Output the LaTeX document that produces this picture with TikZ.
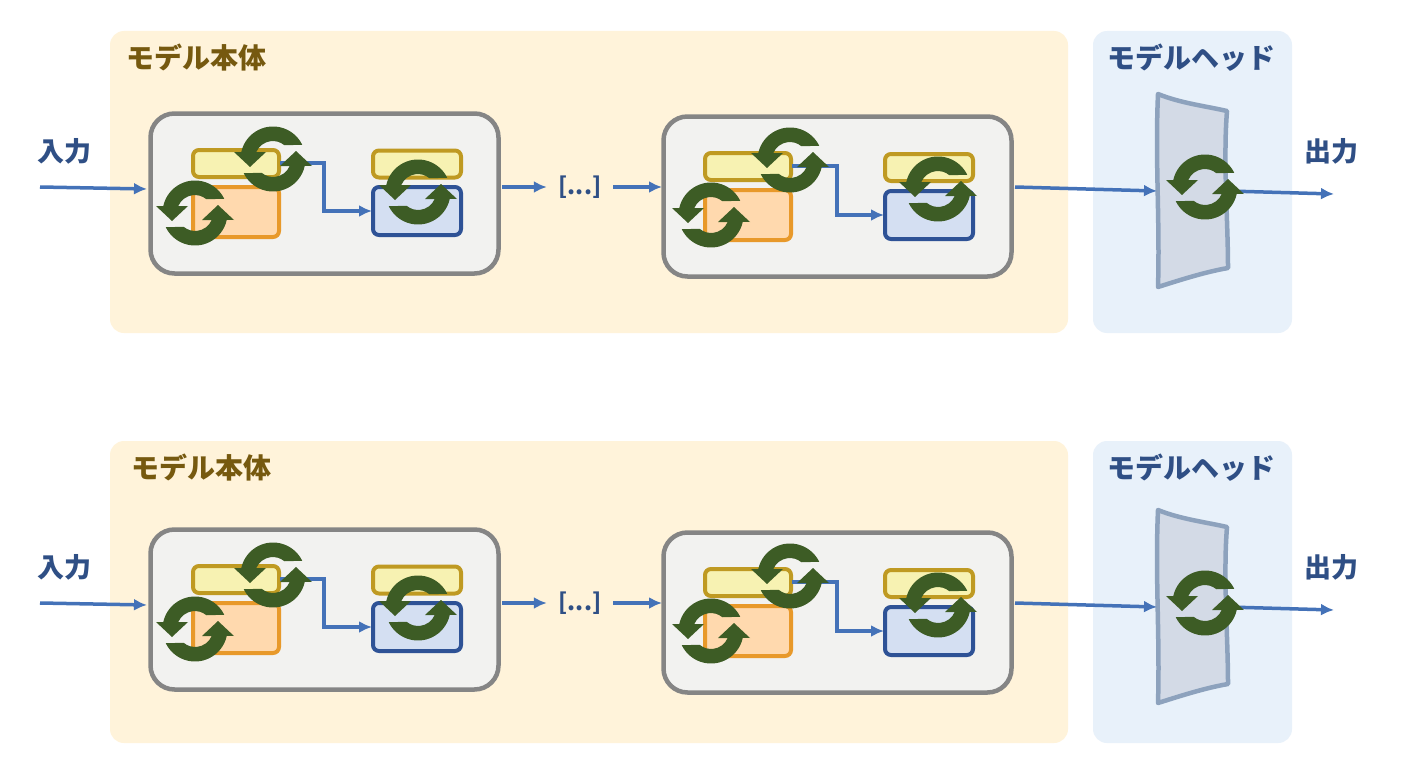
\documentclass[tikz,border=0pt]{standalone}
\usepackage{fontspec}
\setmainfont{Noto Sans CJK JP}
\usetikzlibrary{arrows.meta}
\definecolor{bodybg}{HTML}{FFF3DA}
\definecolor{headbg}{HTML}{E8F1FA}
\definecolor{bodytxt}{HTML}{76590F}
\definecolor{headtxt}{HTML}{2F4F85}
\definecolor{blockfill}{HTML}{F2F2F0}
\definecolor{blockline}{HTML}{858585}
\definecolor{yelfill}{HTML}{F7F2B2}
\definecolor{yelline}{HTML}{BF9A22}
\definecolor{orfill}{HTML}{FFD9AE}
\definecolor{orline}{HTML}{E8992A}
\definecolor{blfill}{HTML}{D4DFF2}
\definecolor{blline}{HTML}{2E5296}
\definecolor{iconc}{HTML}{3D5C25}
\definecolor{arrowc}{HTML}{4472B8}
\definecolor{headfill}{HTML}{D3DAE6}
\definecolor{headline}{HTML}{8DA2BD}
\tikzset{
  panel/.style={fill=#1,draw=none,rounded corners=14pt},
  blockbox/.style={draw=blockline,fill=blockfill,line width=4.5pt,rounded corners=24pt,minimum width=348pt,minimum height=160pt,inner sep=0pt},
  innerbox/.style n args={4}{draw=#2,fill=#1,line width=4pt,rounded corners=6pt,minimum width=#3,minimum height=#4,inner sep=0pt},
  conn/.style={draw=arrowc,line width=3.5pt,-{Latex[length=13pt,width=12pt]}},
  bodylabel/.style={text=bodytxt,font=\fontsize{28}{32}\selectfont\bfseries,inner sep=0pt},
  headlabel/.style={text=headtxt,font=\fontsize{28}{32}\selectfont\bfseries,inner sep=0pt},
  iolabel/.style={text=headtxt,font=\fontsize{27}{32}\selectfont\bfseries,inner sep=0pt},
  dots/.style={text=headtxt,font=\fontsize{23}{28}\selectfont\bfseries,inner sep=0pt,minimum width=66pt,minimum height=30pt},
  headanchor/.style={inner sep=0pt,minimum width=71pt,minimum height=160pt},
  pics/refreshicon/.style={code={
    \foreach \r in {0,180}{
      \fill[iconc,rotate=\r] (26:32.5) arc[start angle=26,end angle=168,radius=32.5]
        -- (-39,7) -- (-23,-8) -- (-7,7) -- (-16.7,7)
        arc[start angle=157,end angle=50,radius=18] -- cycle;
    }
  }}
}
\newcommand{\modelrow}[2]{%
  \begin{scope}[yshift=-#2pt]
    % first block
    \node[blockbox] (blockA#1) at (324.5,-193.5) {};
    \node[innerbox={yelfill}{yelline}{86pt}{27pt}] (yelA#1) at (236,-163.5) {};
    \node[innerbox={orfill}{orline}{86pt}{50pt}] (orA#1) at (236,-212) {};
    \node[innerbox={yelfill}{yelline}{88pt}{27pt}] (yelB#1) at (417,-164) {};
    \node[innerbox={blfill}{blline}{88pt}{48pt}] (blA#1) at (417,-211) {};
    % second block
    \node[blockbox] (blockB#1) at (837.5,-196.5) {};
    \node[innerbox={yelfill}{yelline}{86pt}{27pt}] (yelC#1) at (748,-166.5) {};
    \node[innerbox={orfill}{orline}{86pt}{50pt}] (orB#1) at (748,-215) {};
    \node[innerbox={yelfill}{yelline}{88pt}{27pt}] (yelD#1) at (929,-167.5) {};
    \node[innerbox={blfill}{blline}{88pt}{48pt}] (blB#1) at (929,-215) {};
    % head
    \fill[headfill] (1158,-94) .. controls (1180,-103) and (1205,-106) .. (1227,-111)
      .. controls (1223,-160) and (1228,-220) .. (1228,-268)
      .. controls (1205,-272) and (1180,-280) .. (1158,-287)
      .. controls (1160,-220) and (1155,-160) .. cycle;
    \draw[headline,line width=4.5pt,line join=round] (1158,-94) .. controls (1180,-103) and (1205,-106) .. (1227,-111)
      .. controls (1223,-160) and (1228,-220) .. (1228,-268)
      .. controls (1205,-272) and (1180,-280) .. (1158,-287)
      .. controls (1160,-220) and (1155,-160) .. cycle;
    \node[headanchor] (headshape#1) at (1192.5,-191) {};
    % free ends and dots
    \coordinate (in#1) at (40,-187);
    \coordinate (inend#1) at (147,-189);
    \coordinate (blockAout#1) at (502,-187);
    \coordinate (blockBin#1) at (662,-187);
    \coordinate (blockBout#1) at (1015,-187);
    \coordinate (headin#1) at (1157,-191);
    \coordinate (headout#1) at (1228,-191);
    \coordinate (out#1) at (1334,-194);
    \coordinate (yelAout#1) at (280,-163);
    \coordinate (blAin#1) at (372,-211);
    \coordinate (yelCout#1) at (792,-166);
    \coordinate (blBin#1) at (884,-215);
    \node[dots] (dotsn#1) at (580,-187) {[...]};
    \node[iolabel] (inlab#1) at (64,-151) {入力};
    \node[iolabel] (outlab#1) at (1331,-151) {出力};
    % connectors
    \draw[conn] (in#1) -- (inend#1);
    \draw[conn] (blockAout#1) -- (dotsn#1.west);
    \draw[conn] (dotsn#1.east) -- (blockBin#1);
    \draw[conn] (blockBout#1) -- (headin#1);
    \draw[conn] (headout#1) -- (out#1);
    \draw[conn] (yelAout#1) -| (324,-211) -- (blAin#1);
    \draw[conn] (yelCout#1) -| (837,-215) -- (blBin#1);
    % icons
    \pic at (195,-213) {refreshicon};
    \pic at (273,-159) {refreshicon};
    \pic at (418,-192) {refreshicon};
    \pic at (711,-215) {refreshicon};
    \pic at (790,-160) {refreshicon};
    \pic at (938,-189) {refreshicon};
    \pic at (1205,-187) {refreshicon};
  \end{scope}
}
\begin{document}
\begin{tikzpicture}[x=1pt,y=1pt]
  \useasboundingbox (0,-768) rectangle (1408,0);
  \fill[white] (0,-768) rectangle (1408,0);
  \node[panel=bodybg,minimum width=958pt,minimum height=302pt,inner sep=0pt] (bodyA) at (589,-182) {};
  \node[panel=headbg,minimum width=199pt,minimum height=302pt,inner sep=0pt] (headA) at (1192.5,-182) {};
  \node[panel=bodybg,minimum width=958pt,minimum height=302pt,inner sep=0pt] (bodyB) at (589,-592) {};
  \node[panel=headbg,minimum width=199pt,minimum height=302pt,inner sep=0pt] (headB) at (1192.5,-592) {};
  \node[bodylabel] (labA) at (196,-58) {モデル本体};
  \node[bodylabel] (labB) at (201,-468) {モデル本体};
  \node[headlabel] (labC) at (1191,-58) {モデルヘッド};
  \node[headlabel] (labD) at (1191,-468) {モデルヘッド};
  \modelrow{p}{0}
  \modelrow{q}{416}
\end{tikzpicture}
\end{document}
